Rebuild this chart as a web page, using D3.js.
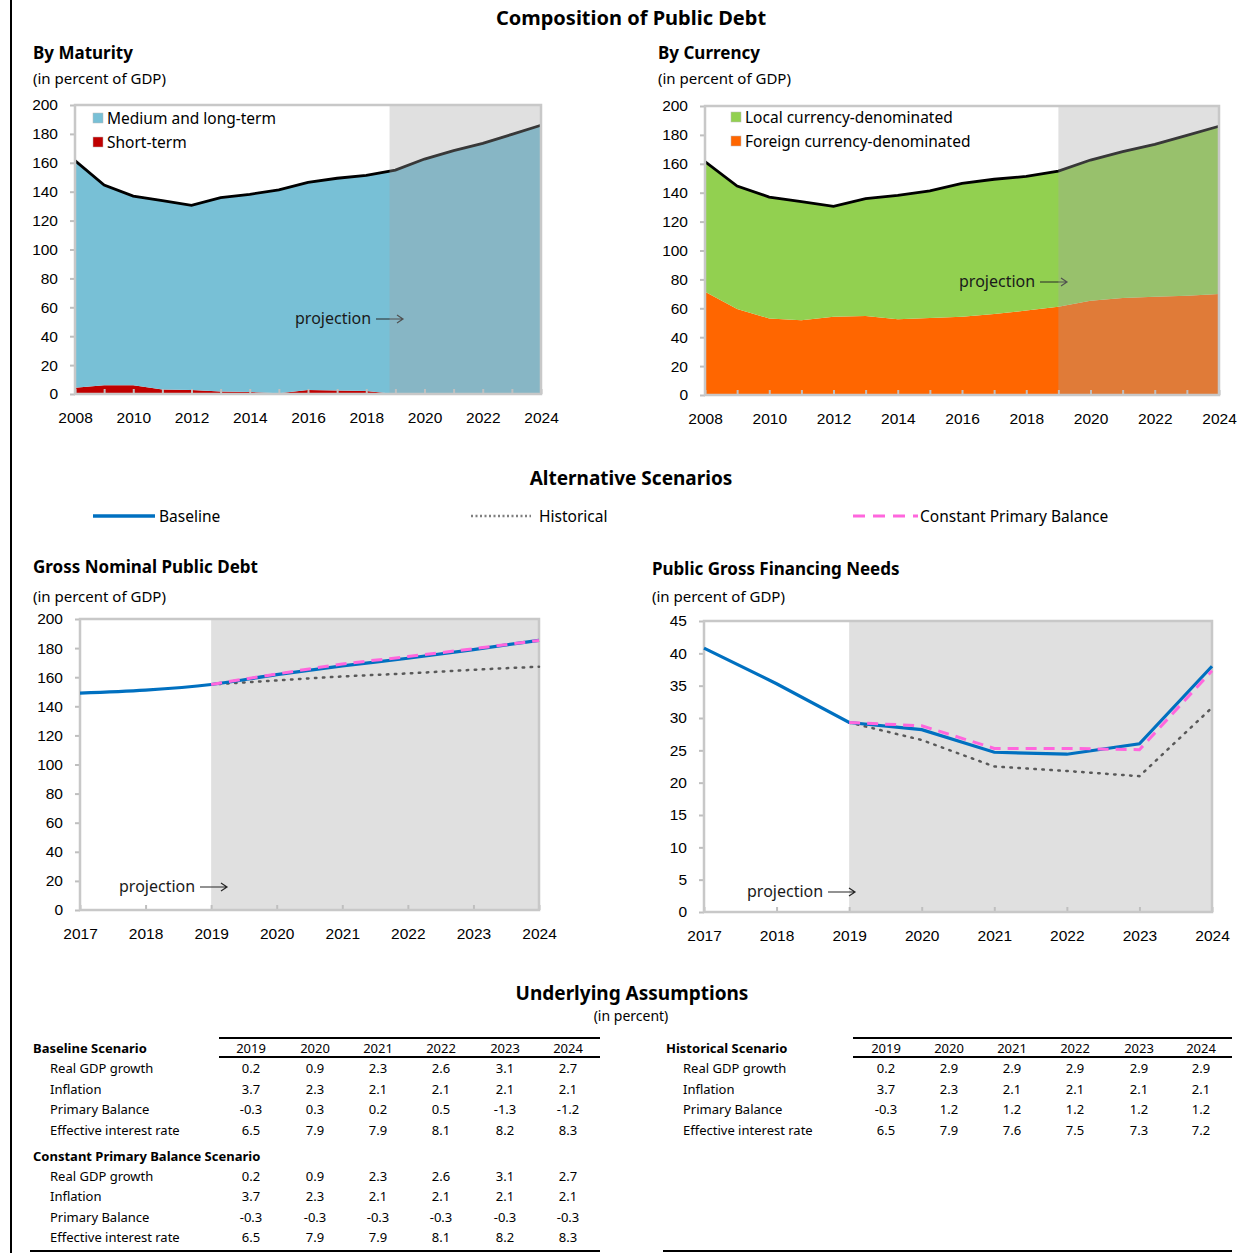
<!DOCTYPE html>
<html>
<head>
<meta charset="utf-8">
<script src="https://cdn.jsdelivr.net/npm/d3@7"></script>
<style>
  body { margin: 0; background: #fff; }
  svg { display: block; font-family: "Noto Sans", "Open Sans", sans-serif; }
  .tick text { fill: #000; }
</style>
</head>
<body>
<svg id="chart" width="1243" height="1253"></svg>
<script>
// ---- composition of public debt (in percent of GDP)
const compYears = [2008, 2009, 2010, 2011, 2012, 2013, 2014, 2015, 2016, 2017, 2018, 2019, 2020, 2021, 2022, 2023, 2024];
const totalDebt = [161.5, 144.6, 137.0, 133.8, 130.6, 135.9, 138.2, 141.2, 146.5, 149.3, 151.3, 155.0, 162.6, 168.4, 173.5, 179.7, 186.0];
const shortTerm = [4.4, 6.0, 6.0, 3.2, 2.8, 1.8, 1.4, 0.5, 2.8, 2.5, 2.0, 0, 0, 0, 0, 0, 0];
const foreignCurrency = [71.5, 59.5, 53.0, 51.7, 54.2, 54.7, 52.4, 53.3, 54.2, 56.0, 58.4, 61.1, 65.3, 67.1, 68.0, 68.7, 69.9];

// ---- alternative scenarios
const scenYears = [2017, 2018, 2019, 2020, 2021, 2022, 2023, 2024];
const debtBaseline = [149.1, 151.1, 155.0, 161.8, 167.8, 173.0, 179.0, 185.3];
const debtHistorical = [null, null, 155.0, 157.8, 160.5, 162.6, 165.1, 167.2];
const debtConstPB = [null, null, 155.0, 162.2, 169.0, 174.2, 179.6, 185.3];
const gfnBaseline = [40.8, 35.3, 29.3, 28.2, 24.7, 24.4, 26.0, 38.0];
const gfnHistorical = [null, null, 29.3, 26.6, 22.5, 21.8, 21.0, 31.6];
const gfnConstPB = [null, null, 29.3, 28.8, 25.3, 25.3, 25.1, 37.3];

// ---- underlying assumptions (in percent)
const tableYears = ["2019", "2020", "2021", "2022", "2023", "2024"];
const rowLabels = ["Real GDP growth", "Inflation", "Primary Balance", "Effective interest rate"];
const baseGrowth = [0.2, 0.9, 2.3, 2.6, 3.1, 2.7];
const baseInflation = [3.7, 2.3, 2.1, 2.1, 2.1, 2.1];
const basePB = [-0.3, 0.3, 0.2, 0.5, -1.3, -1.2];
const baseRate = [6.5, 7.9, 7.9, 8.1, 8.2, 8.3];
const cpbGrowth = [0.2, 0.9, 2.3, 2.6, 3.1, 2.7];
const cpbInflation = [3.7, 2.3, 2.1, 2.1, 2.1, 2.1];
const cpbPB = [-0.3, -0.3, -0.3, -0.3, -0.3, -0.3];
const cpbRate = [6.5, 7.9, 7.9, 8.1, 8.2, 8.3];
const histGrowth = [0.2, 2.9, 2.9, 2.9, 2.9, 2.9];
const histInflation = [3.7, 2.3, 2.1, 2.1, 2.1, 2.1];
const histPB = [-0.3, 1.2, 1.2, 1.2, 1.2, 1.2];
const histRate = [6.5, 7.9, 7.6, 7.5, 7.3, 7.2];

const BLUE = "#0070c0", PINK = "#ff66dd", DOT = "#595959";
const svg = d3.select("#chart");
const fmt1 = v => d3.format(".1f")(v).replace("\u2212", "-");

// left page border
svg.append("line").attr("x1", 11).attr("x2", 11).attr("y1", 0).attr("y2", 1253)
  .attr("stroke", "#000").attr("stroke-width", 2);

function txt(x, y, s, size, opts = {}) {
  return svg.append("text").attr("x", x).attr("y", y).text(s)
    .attr("font-size", size)
    .attr("font-weight", opts.bold ? "bold" : null)
    .attr("text-anchor", opts.anchor || "start")
    .attr("fill", opts.fill || "#000");
}

function frameAxes(g, x, y, xTicks, xFmt, yTicks) {
  g.append("g").attr("transform", `translate(0,${y.range()[0]})`)
    .call(d3.axisBottom(x).tickValues(xTicks).tickFormat(xFmt).tickSize(-5).tickSizeOuter(0).tickPadding(18))
    .call(a => a.select(".domain").remove())
    .call(a => a.selectAll("line").attr("stroke", "#bfbfbf").attr("stroke-width", 2))
    .call(a => a.selectAll("text").attr("font-size", 15.5).attr("font-family", "inherit"));
  g.append("g").attr("transform", `translate(${x.range()[0]},0)`)
    .call(d3.axisLeft(y).tickValues(yTicks).tickSize(5).tickSizeOuter(0).tickPadding(12))
    .call(a => a.select(".domain").remove())
    .call(a => a.selectAll("line").attr("stroke", "#bfbfbf").attr("stroke-width", 2))
    .call(a => a.selectAll("text").attr("font-size", 15.5).attr("font-family", "inherit"));
  g.append("rect").attr("x", x.range()[0]).attr("y", y.range()[1])
    .attr("width", x.range()[1] - x.range()[0]).attr("height", y.range()[0] - y.range()[1])
    .attr("fill", "none").attr("stroke", "#c8c8c8").attr("stroke-width", 2.5);
}

function projectionLabel(g, x, y, size) {
  g.append("text").attr("x", x).attr("y", y).text("projection")
    .attr("font-size", size).attr("fill", "#1a1a1a");
  const ax = x + 81, ay = y - 5;
  g.append("path").attr("d", `M${ax},${ay}H${ax + 27}M${ax + 21},${ay - 4}L${ax + 27},${ay}L${ax + 21},${ay + 4}`)
    .attr("fill", "none").attr("stroke", "#262626").attr("stroke-width", 1.2);
}

// ---------- titles ----------
txt(631, 25, "Composition of Public Debt", 20, { bold: true, anchor: "middle" });
txt(33, 59, "By Maturity", 17, { bold: true });
txt(33, 84, "(in percent of GDP)", 15);
txt(658, 59, "By Currency", 17, { bold: true });
txt(658, 84, "(in percent of GDP)", 15);

const evenFmt = d => (d % 2 === 0 ? d : "");

// ---------- stacked composition chart ----------
function compChart(x0, x1, yTop, yBot, projStart, lowerSeries, lowerColor, upperColor, legendItems, legendX, legendY, projPos) {
  const g = svg.append("g");
  const x = d3.scaleLinear().domain([2008, 2024]).range([x0, x1]);
  const y = d3.scaleLinear().domain([0, 200]).range([yBot, yTop]);
  const rows = compYears.map((yr, i) => ({ year: yr, lower: lowerSeries[i], upper: totalDebt[i] - lowerSeries[i] }));
  const stack = d3.stack().keys(["lower", "upper"])(rows);
  const area = d3.area().x(d => x(d.data.year)).y0(d => y(d[0])).y1(d => y(d[1]));
  g.selectAll("path.layer").data(stack).join("path").attr("class", "layer")
    .attr("d", area).attr("fill", (d, i) => (i === 0 ? lowerColor : upperColor));
  g.append("path").datum(rows)
    .attr("d", d3.line().x(d => x(d.year)).y(d => y(d.lower + d.upper)))
    .attr("fill", "none").attr("stroke", "#000").attr("stroke-width", 2.8);
  projectionLabel(g, projPos[0], projPos[1], 16);
  // projection overlay
  g.append("rect").attr("x", x(projStart)).attr("y", yTop)
    .attr("width", x(2024) - x(projStart)).attr("height", yBot - yTop)
    .attr("fill", "#a4a4a4").attr("opacity", 0.34);
  frameAxes(g, x, y, compYears, evenFmt, d3.range(0, 201, 20));
  legendItems.forEach((it, i) => {
    const ly = legendY + i * 24;
    g.append("rect").attr("x", legendX).attr("y", ly - 5).attr("width", 10).attr("height", 10)
      .attr("fill", it.color).attr("stroke", "#bbb").attr("stroke-width", 0.5);
    g.append("text").attr("x", legendX + 14).attr("y", ly + 5.5).text(it.label).attr("font-size", 15.5);
  });
}

compChart(75, 541, 105, 394, 2018.8, shortTerm, "#c00000", "#78c0d6",
  [{ label: "Medium and long-term", color: "#78c0d6" }, { label: "Short-term", color: "#c00000" }],
  93, 118, [295, 324]);
compChart(705, 1219, 106, 395, 2019, foreignCurrency, "#ff6600", "#92d050",
  [{ label: "Local currency-denominated", color: "#92d050" }, { label: "Foreign currency-denominated", color: "#ff6600" }],
  731, 117, [959, 287]);

// ---------- alternative scenarios ----------
txt(631, 485, "Alternative Scenarios", 19, { bold: true, anchor: "middle" });
const legendY = 516;
svg.append("line").attr("x1", 93).attr("x2", 155).attr("y1", legendY).attr("y2", legendY)
  .attr("stroke", BLUE).attr("stroke-width", 3.5);
txt(159, legendY + 6, "Baseline", 15.5);
svg.append("line").attr("x1", 471).attr("x2", 531).attr("y1", legendY).attr("y2", legendY)
  .attr("stroke", "#7f7f7f").attr("stroke-width", 2.5).attr("stroke-dasharray", "2,2.5");
txt(539, legendY + 6, "Historical", 15.5);
svg.append("line").attr("x1", 853).attr("x2", 918).attr("y1", legendY).attr("y2", legendY)
  .attr("stroke", PINK).attr("stroke-width", 3).attr("stroke-dasharray", "12,8");
txt(920, legendY + 6, "Constant Primary Balance", 15.5);

txt(33, 573, "Gross Nominal Public Debt", 17, { bold: true });
txt(33, 602, "(in percent of GDP)", 15);
txt(652, 575, "Public Gross Financing Needs", 17, { bold: true });
txt(652, 602, "(in percent of GDP)", 15);

function scenChart(x0, x1, yTop, yBot, yMax, yStep, base, hist, cpb, smooth, projPos) {
  const g = svg.append("g");
  const x = d3.scaleLinear().domain([2017, 2024]).range([x0, x1]);
  const y = d3.scaleLinear().domain([0, yMax]).range([yBot, yTop]);
  g.append("rect").attr("x", x(2019)).attr("y", yTop)
    .attr("width", x(2024) - x(2019)).attr("height", yBot - yTop).attr("fill", "#e0e0e0");
  frameAxes(g, x, y, scenYears, d => d, d3.range(0, yMax + 1, yStep));
  projectionLabel(g, projPos[0], projPos[1], 16);
  const line = d3.line().defined(d => d[1] != null).x(d => x(d[0])).y(d => y(d[1]))
    .curve(smooth ? d3.curveMonotoneX : d3.curveLinear);
  const pts = arr => scenYears.map((yr, i) => [yr, arr[i]]);
  g.append("path").attr("d", line(pts(hist))).attr("fill", "none")
    .attr("stroke", DOT).attr("stroke-width", 2.5).attr("stroke-dasharray", "1.5,6.5").attr("stroke-linecap", "round");
  g.append("path").attr("d", line(pts(base))).attr("fill", "none")
    .attr("stroke", BLUE).attr("stroke-width", 3.2);
  g.append("path").attr("d", line(pts(cpb))).attr("fill", "none")
    .attr("stroke", PINK).attr("stroke-width", 3).attr("stroke-dasharray", "11,7");
}

scenChart(80, 539, 619, 910, 200, 20, debtBaseline, debtHistorical, debtConstPB, true, [119, 892]);
scenChart(704, 1212, 621, 912, 45, 5, gfnBaseline, gfnHistorical, gfnConstPB, false, [747, 897]);

// ---------- underlying assumptions ----------
txt(632, 1000, "Underlying Assumptions", 19, { bold: true, anchor: "middle" });
txt(631, 1021, "(in percent)", 14, { anchor: "middle" });

function table(labelX, lineX0, lineX1, colX, blocks, bottomX0) {
  svg.append("line").attr("x1", lineX0).attr("x2", lineX1).attr("y1", 1038).attr("y2", 1038)
    .attr("stroke", "#000").attr("stroke-width", 2);
  svg.append("line").attr("x1", lineX0).attr("x2", lineX1).attr("y1", 1057).attr("y2", 1057)
    .attr("stroke", "#000").attr("stroke-width", 2);
  svg.append("line").attr("x1", bottomX0).attr("x2", lineX1).attr("y1", 1251).attr("y2", 1251)
    .attr("stroke", "#000").attr("stroke-width", 2);
  tableYears.forEach((yr, j) => txt(colX[j], 1053, yr, 13, { anchor: "middle" }));
  let yy = 1053;
  blocks.forEach((b, bi) => {
    if (bi > 0) yy += 26;
    txt(labelX, yy, b.title, 13, { bold: true });
    b.rows.forEach((vals, r) => {
      const ry = yy + 20 + r * 20.5;
      txt(labelX + 17, ry, rowLabels[r], 13);
      vals.forEach((v, j) => txt(colX[j], ry, fmt1(v), 13, { anchor: "middle" }));
    });
    yy += 20 + 3 * 20.5;
  });
}

table(33, 219, 600, [251, 315, 378, 441, 505, 568], [
  { title: "Baseline Scenario", rows: [baseGrowth, baseInflation, basePB, baseRate] },
  { title: "Constant Primary Balance Scenario", rows: [cpbGrowth, cpbInflation, cpbPB, cpbRate] }
], 30);
table(666, 853, 1232, [886, 949, 1012, 1075, 1139, 1201], [
  { title: "Historical Scenario", rows: [histGrowth, histInflation, histPB, histRate] }
], 663);
</script>
</body>
</html>
